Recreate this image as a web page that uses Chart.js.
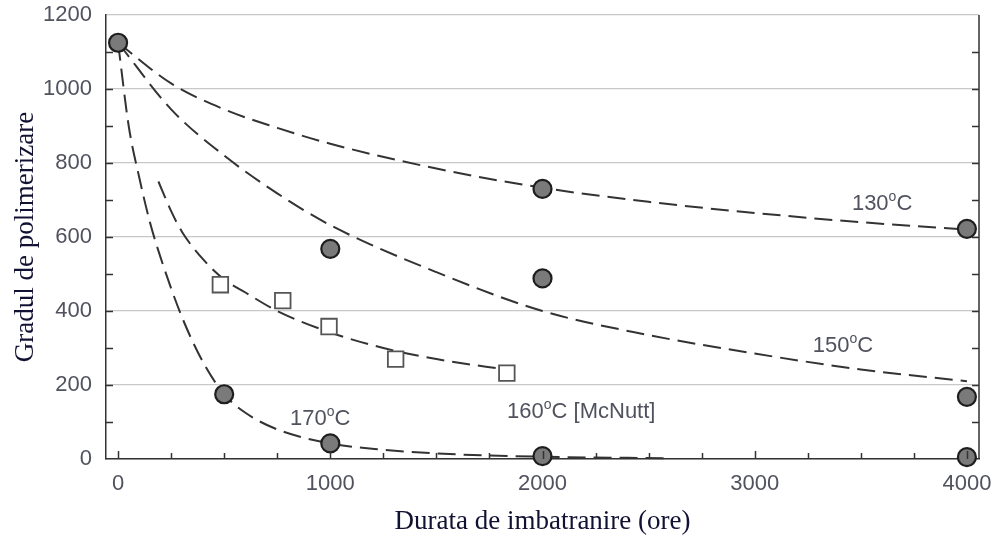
<!DOCTYPE html>
<html>
<head>
<meta charset="utf-8">
<script src="https://cdn.jsdelivr.net/npm/chart.js@4.4.1/dist/chart.umd.min.js"></script>
<style>
  html, body { margin: 0; padding: 0; background: #fff; }
  #wrap { width: 999px; height: 546px; }
</style>
</head>
<body>
<div id="wrap"><canvas id="myChart"></canvas></div>
<script>
// fitted curves
const x130 = [0, 250, 500, 750, 1000, 1500, 2000, 2500, 3000, 3500, 4000];
const y130 = [1125, 1015, 945, 895, 852, 785, 733, 695, 665, 640, 620];
const x150 = [0, 250, 500, 750, 1000, 1500, 2000, 2500, 3000, 3500, 4000];
const y150 = [1125, 945, 820, 718, 632, 505, 400, 335, 285, 242, 210];
const x170 = [0, 50, 100, 150, 200, 300, 400, 500, 600, 750, 1000, 1250, 1500, 2000, 2600];
const y170 = [1125, 900, 760, 640, 545, 385, 262, 175, 125, 80, 42, 25, 15, 6, 2];
const x160 = [190, 250, 300, 400, 500, 600, 750, 1000, 1250, 1500, 1850];
const y160 = [750, 670, 615, 540, 485, 450, 400, 342, 300, 270, 240];

// measured points
const circX = [0, 500, 1000, 1000, 2000, 2000, 2000, 4000, 4000, 4000];
const circY = [1125, 175, 568, 42, 730, 488, 8, 622, 168, 5];
const sqX = [482, 776, 994, 1308, 1832];
const sqY = [471, 428, 358, 270, 232];

const xTicks = [0, 1000, 2000, 3000, 4000];
const yTicks = [0, 200, 400, 600, 800, 1000, 1200];
const curveLabels = ['130°C', '150°C', '170°C', '160°C [McNutt]'];

const xy = (xs, ys) => xs.map((v, i) => ({ x: v, y: ys[i] }));

const tickColor = '#50525e';
const lineColor = '#333333';

function curve(xs, ys) {
  return {
    data: xy(xs, ys),
    showLine: true,
    pointRadius: 0,
    borderColor: lineColor,
    borderWidth: 2,
    borderDash: [18, 8],
    cubicInterpolationMode: 'monotone',
    fill: false,
    order: 5
  };
}

// inward minor ticks + right frame + curve labels
const extras = {
  id: 'extras',
  afterDatasetsDraw(chart) {
    const { ctx, chartArea: a, scales: { x, y } } = chart;
    ctx.save();
    ctx.strokeStyle = '#333';
    ctx.lineWidth = 1.5;
    ctx.beginPath();
    ctx.moveTo(a.right, a.top);
    ctx.lineTo(a.right, a.bottom);
    for (let v = 100; v < 1200; v += 100) {
      const py = Math.round(y.getPixelForValue(v)) + 0.5;
      ctx.moveTo(a.left, py); ctx.lineTo(a.left + 7, py);
      ctx.moveTo(a.right, py); ctx.lineTo(a.right - 7, py);
    }
    for (let v = 0; v <= 4000; v += 250) {
      const px = Math.round(x.getPixelForValue(v)) + 0.5;
      ctx.moveTo(px, a.bottom); ctx.lineTo(px, a.bottom - (v % 1000 === 0 ? 8 : 6));
    }
    ctx.stroke();

    const pos = [[3458, 674], [3274, 290], [810, 92], [1833, 111]];
    ctx.fillStyle = tickColor;
    ctx.textBaseline = 'alphabetic';
    ctx.textAlign = 'left';
    curveLabels.forEach((t, i) => {
      const parts = t.split('°');
      let px = x.getPixelForValue(pos[i][0]);
      const py = y.getPixelForValue(pos[i][1]);
      ctx.font = '22px "Liberation Sans", Arial, sans-serif';
      ctx.fillText(parts[0], px, py);
      px += ctx.measureText(parts[0]).width;
      ctx.font = '14px "Liberation Sans", Arial, sans-serif';
      ctx.fillText('o', px, py - 9);
      px += ctx.measureText('o').width;
      ctx.font = '22px "Liberation Sans", Arial, sans-serif';
      ctx.fillText(parts[1], px, py);
    });
    ctx.restore();
  }
};

const ctx = document.getElementById('myChart');

new Chart(ctx, {
  type: 'scatter',
  data: {
    datasets: [
      {
        data: xy(circX, circY),
        pointStyle: 'circle',
        pointRadius: 9,
        pointBackgroundColor: '#7a7a7a',
        pointBorderColor: '#1e1e1e',
        pointBorderWidth: 2.2,
        order: 1
      },
      {
        data: xy(sqX, sqY),
        pointStyle: 'rect',
        pointRadius: 11,
        pointBackgroundColor: '#ffffff',
        pointBorderColor: '#555555',
        pointBorderWidth: 1.8,
        order: 2
      },
      curve(x130, y130),
      curve(x150, y150),
      curve(x170, y170),
      curve(x160, y160)
    ]
  },
  options: {
    responsive: true,
    maintainAspectRatio: false,
    animation: false,
    clip: false,
    layout: { padding: { top: 15, right: 20, left: 0, bottom: 0 } },
    plugins: {
      legend: { display: false },
      tooltip: { enabled: false }
    },
    scales: {
      x: {
        type: 'linear',
        min: -57,
        max: 4057,
        afterBuildTicks: s => { s.ticks = xTicks.map(v => ({ value: v })); },
        afterFit: s => { s.height = 87; s.paddingLeft = 0; s.paddingRight = 0; },
        grid: { display: false, drawTicks: false },
        border: { display: true, color: '#333', width: 1.5 },
        ticks: {
          padding: 12,
          color: tickColor,
          callback: v => String(v),
          font: { family: '"Liberation Sans", Arial, sans-serif', size: 22 }
        },
        title: {
          display: true,
          text: 'Durata de imbatranire (ore)',
          color: '#111133',
          padding: { top: 4, bottom: 8 },
          font: { family: '"Liberation Serif", "Times New Roman", serif', size: 27 }
        }
      },
      y: {
        min: 0,
        max: 1200,
        afterBuildTicks: s => { s.ticks = yTicks.map(v => ({ value: v })); },
        afterFit: s => { s.width = 106; s.paddingTop = 0; s.paddingBottom = 0; },
        grid: { color: '#c8c8c8', lineWidth: 1.2, drawTicks: false },
        border: { display: true, color: '#333', width: 1.5 },
        ticks: {
          padding: 14,
          color: tickColor,
          callback: v => String(v),
          font: { family: '"Liberation Sans", Arial, sans-serif', size: 22 }
        },
        title: {
          display: true,
          text: 'Gradul de polimerizare',
          color: '#111133',
          padding: { top: 10, bottom: 0 },
          font: { family: '"Liberation Serif", "Times New Roman", serif', size: 27 }
        }
      }
    }
  },
  plugins: [extras]
});
</script>
</body>
</html>
